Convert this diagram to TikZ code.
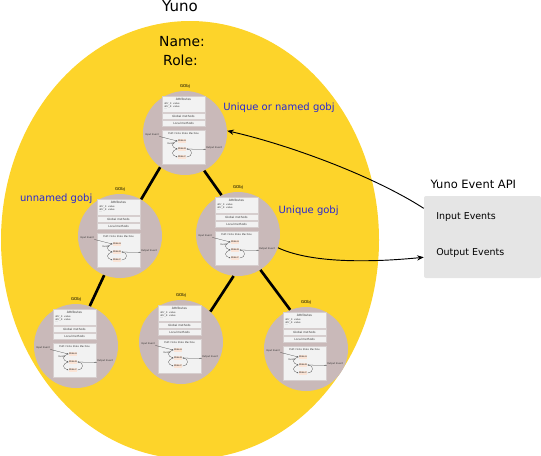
\documentclass[tikz,border=0pt]{standalone}
\usepackage{fontspec}
\setmainfont{DejaVu Sans}
\usepackage{tikz}
\usetikzlibrary{arrows.meta}

\definecolor{yunoYellow}{RGB}{253,212,42}
\definecolor{gobjGray}{RGB}{201,185,185}
\definecolor{partGray}{RGB}{242,242,242}
\definecolor{partLine}{RGB}{214,206,206}
\definecolor{stateFill}{RGB}{251,228,214}
\definecolor{apiGray}{RGB}{229,229,229}
\definecolor{nameBlue}{RGB}{38,38,214}

\tikzset{
  gobj/.style={circle, fill=gobjGray, inner sep=0pt, minimum size=63pt},
  gobjlabel/.style={inner sep=0pt, font=\fontsize{3}{3.5}\selectfont},
  part/.style={draw=partLine, fill=partGray, line width=0.3pt},
  tinytext/.style={inner sep=0pt, text=black!80, font=\fontsize{1.8}{2}\selectfont},
  state/.style={fill=stateFill, inner sep=0.4pt, minimum width=6pt, minimum height=2.6pt, font=\fontsize{1.6}{2}\selectfont},
  fsmarrow/.style={draw=black!70, line width=0.2pt, -{Stealth[length=1pt,width=0.8pt]}},
  link/.style={line width=2pt},
  gobjname/.style={inner sep=0pt, text=nameBlue, font=\fontsize{7.5}{9}\selectfont},
  apibox/.style={fill=apiGray, rounded corners=1.5pt, inner sep=0pt, minimum width=87.75pt, minimum height=61.5pt},
  apitext/.style={inner sep=0pt, font=\fontsize{7.1}{8.5}\selectfont},
  event/.style={line width=0.7pt, -{Stealth[length=5pt,width=4pt]}}
}

\begin{document}
\begin{tikzpicture}[x=0.75pt,y=0.75pt,yscale=-1,xscale=1]
\path[use as bounding box] (0,0) rectangle (541,455);

%Shape: Ellipse [Yuno]
\fill[yunoYellow] (190,240) ellipse (189 and 219);

% Text Node
\node[inner sep=0pt, font=\fontsize{11.25}{13}\selectfont, anchor=base] (yuno) at (180,11.7) {Yuno};
% Text Node
\node[inner sep=0pt, font=\fontsize{10.4}{12}\selectfont, anchor=base] (name) at (182,46.7) {Name:};
% Text Node
\node[inner sep=0pt, font=\fontsize{10.4}{12}\selectfont, anchor=base] (role) at (180.5,65) {Role:};

%Shape: Circles [gobjs]
\foreach \n/\cx/\cy in {g1/185/133, g2/120/236, g3/238/234, g4/76/346, g5/181/342, g6/306/349}{
  \node[gobj] (\n) at (\cx,\cy) {};
  \begin{scope}[shift={(\cx,\cy)}]
    \node[gobjlabel] (\n-lbl) at (0,-47) {GObj};
    % attributes and methods
    \draw[part] (-23,-37) rectangle (20,-21);
    \draw[part] (-23,-20) rectangle (20,-14);
    \draw[part] (-23,-13) rectangle (20,-7);
    \node[tinytext, font=\fontsize{2.3}{2.6}\selectfont] (\n-attr) at (-1.5,-33.5) {Attributes};
    \node[tinytext, anchor=west] (\n-a1) at (-21,-29) {attr\_1: value};
    \node[tinytext, anchor=west] (\n-a2) at (-21,-26.5) {attr\_2: value};
    \node[tinytext, anchor=west] (\n-a3) at (-21,-24) {...};
    \node[tinytext, font=\fontsize{2.1}{2.4}\selectfont] (\n-gm) at (-1.5,-17) {Global methods};
    \node[tinytext, font=\fontsize{2.1}{2.4}\selectfont] (\n-lm) at (-1.5,-10) {Local methods};
    % state machine
    \draw[part] (-23,-3) rectangle (20,31);
    \node[tinytext] (\n-fsm) at (-1.5,0.5) {FSM: Finite State Machine};
    \node[state] (\n-sa) at (-3,8) {State A};
    \node[state] (\n-sb) at (-3,16) {State B};
    \node[state] (\n-sc) at (-3,24) {State C};
    \node[tinytext] (\n-in) at (-33,2) {Input Event};
    \node[tinytext] (\n-ev) at (-14,11) {Event};
    \node[tinytext] (\n-out) at (29,15) {Output Event};
    \draw[fsmarrow] (\n-in.south east) -- (\n-sa.west);
    \draw[fsmarrow] (\n-sa.west) .. controls (-14,10) and (-14,14) .. (\n-sb.west);
    \draw[fsmarrow] (\n-sb.west) .. controls (-14,18) and (-14,22) .. (\n-sc.west);
    \draw[fsmarrow] (\n-sc.east) .. controls (8,24) and (8,16) .. (\n-sb.east);
    \draw[fsmarrow] (\n-sb.east) -- (\n-out.south west);
  \end{scope}
}

%Straight Lines [tree]
\draw[link] (g1.234) -- (g2.60);
\draw[link] (g1.297) -- (g3.113);
\draw[link] (g2.248) -- (g4.71);
\draw[link] (g3.264) -- (g5.46);
\draw[link] (g3.302) -- (g6.112);

% Text Node
\node[gobjname, anchor=base west] (named) at (223,110.5) {Unique or named gobj};
% Text Node
\node[gobjname, anchor=base] (unnamed) at (56.2,201.7) {unnamed gobj};
% Text Node
\node[gobjname, anchor=base west] (unique) at (278.3,213.3) {Unique gobj};

%Shape: Rectangle [event api]
\node[apibox] (api) at (482.5,237) {};
% Text Node
\node[inner sep=0pt, font=\fontsize{8.6}{10}\selectfont, anchor=base] (apititle) at (473.3,188.3) {Yuno Event API};
% Text Node
\node[apitext, anchor=base west] (inev) at (436,219.3) {Input Events};
% Text Node
\node[apitext, anchor=base west] (outev) at (436,255.7) {Output Events};

%Curve Lines [events]
\draw[event] (api.154) .. controls (372,175) and (286,144) .. (g1.3);
\draw[event] (g3.-19) .. controls (314,264.6) and (379,261.7) .. (api.199);

\end{tikzpicture}
\end{document}
